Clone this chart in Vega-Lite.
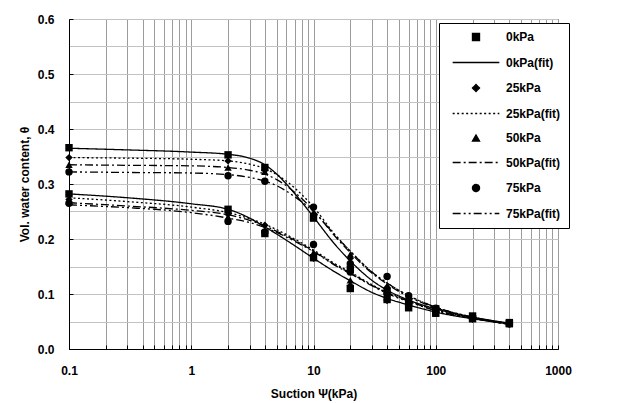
{
  "$schema": "https://vega.github.io/schema/vega-lite/v6.json",
  "width": 489,
  "height": 330,
  "autosize": {"type": "none"},
  "padding": {"left": 69, "top": 19, "right": 71, "bottom": 54},
  "background": "white",
  "datasets": {
    "pts": [
      {"s":0.1,"t":0.366,"label":"0kPa","branch":"u"},{"s":2,"t":0.353,"label":"0kPa","branch":"u"},{"s":4,"t":0.330,"label":"0kPa","branch":"u"},{"s":10,"t":0.238,"label":"0kPa","branch":"u"},{"s":20,"t":0.145,"label":"0kPa","branch":"u"},{"s":40,"t":0.105,"label":"0kPa","branch":"u"},{"s":60,"t":0.085,"label":"0kPa","branch":"u"},{"s":100,"t":0.073,"label":"0kPa","branch":"u"},{"s":200,"t":0.060,"label":"0kPa","branch":"u"},{"s":400,"t":0.048,"label":"0kPa","branch":"u"},
      {"s":0.1,"t":0.282,"label":"0kPa","branch":"l"},{"s":2,"t":0.254,"label":"0kPa","branch":"l"},{"s":4,"t":0.210,"label":"0kPa","branch":"l"},{"s":10,"t":0.166,"label":"0kPa","branch":"l"},{"s":20,"t":0.110,"label":"0kPa","branch":"l"},{"s":40,"t":0.090,"label":"0kPa","branch":"l"},{"s":60,"t":0.075,"label":"0kPa","branch":"l"},{"s":100,"t":0.065,"label":"0kPa","branch":"l"},{"s":200,"t":0.055,"label":"0kPa","branch":"l"},{"s":400,"t":0.046,"label":"0kPa","branch":"l"},
      {"s":0.1,"t":0.348,"label":"25kPa","branch":"u"},{"s":2,"t":0.342,"label":"25kPa","branch":"u"},{"s":4,"t":0.325,"label":"25kPa","branch":"u"},{"s":10,"t":0.245,"label":"25kPa","branch":"u"},{"s":20,"t":0.165,"label":"25kPa","branch":"u"},{"s":40,"t":0.112,"label":"25kPa","branch":"u"},{"s":60,"t":0.090,"label":"25kPa","branch":"u"},{"s":100,"t":0.072,"label":"25kPa","branch":"u"},{"s":200,"t":0.057,"label":"25kPa","branch":"u"},{"s":400,"t":0.047,"label":"25kPa","branch":"u"},
      {"s":0.1,"t":0.272,"label":"25kPa","branch":"l"},{"s":2,"t":0.245,"label":"25kPa","branch":"l"},{"s":4,"t":0.225,"label":"25kPa","branch":"l"},{"s":10,"t":0.165,"label":"25kPa","branch":"l"},{"s":20,"t":0.115,"label":"25kPa","branch":"l"},{"s":40,"t":0.088,"label":"25kPa","branch":"l"},{"s":60,"t":0.078,"label":"25kPa","branch":"l"},{"s":100,"t":0.066,"label":"25kPa","branch":"l"},{"s":200,"t":0.054,"label":"25kPa","branch":"l"},{"s":400,"t":0.045,"label":"25kPa","branch":"l"},
      {"s":0.1,"t":0.335,"label":"50kPa","branch":"u"},{"s":2,"t":0.330,"label":"50kPa","branch":"u"},{"s":4,"t":0.322,"label":"50kPa","branch":"u"},{"s":10,"t":0.245,"label":"50kPa","branch":"u"},{"s":20,"t":0.172,"label":"50kPa","branch":"u"},{"s":40,"t":0.115,"label":"50kPa","branch":"u"},{"s":60,"t":0.092,"label":"50kPa","branch":"u"},{"s":100,"t":0.072,"label":"50kPa","branch":"u"},{"s":200,"t":0.057,"label":"50kPa","branch":"u"},{"s":400,"t":0.047,"label":"50kPa","branch":"u"},
      {"s":0.1,"t":0.268,"label":"50kPa","branch":"l"},{"s":2,"t":0.240,"label":"50kPa","branch":"l"},{"s":4,"t":0.215,"label":"50kPa","branch":"l"},{"s":10,"t":0.175,"label":"50kPa","branch":"l"},{"s":20,"t":0.125,"label":"50kPa","branch":"l"},{"s":40,"t":0.095,"label":"50kPa","branch":"l"},{"s":60,"t":0.080,"label":"50kPa","branch":"l"},{"s":100,"t":0.067,"label":"50kPa","branch":"l"},{"s":200,"t":0.055,"label":"50kPa","branch":"l"},{"s":400,"t":0.046,"label":"50kPa","branch":"l"},
      {"s":0.1,"t":0.322,"label":"75kPa","branch":"u"},{"s":2,"t":0.315,"label":"75kPa","branch":"u"},{"s":4,"t":0.305,"label":"75kPa","branch":"u"},{"s":10,"t":0.258,"label":"75kPa","branch":"u"},{"s":20,"t":0.155,"label":"75kPa","branch":"u"},{"s":40,"t":0.132,"label":"75kPa","branch":"u"},{"s":60,"t":0.097,"label":"75kPa","branch":"u"},{"s":100,"t":0.074,"label":"75kPa","branch":"u"},{"s":200,"t":0.058,"label":"75kPa","branch":"u"},{"s":400,"t":0.047,"label":"75kPa","branch":"u"},
      {"s":0.1,"t":0.265,"label":"75kPa","branch":"l"},{"s":2,"t":0.232,"label":"75kPa","branch":"l"},{"s":4,"t":0.213,"label":"75kPa","branch":"l"},{"s":10,"t":0.190,"label":"75kPa","branch":"l"},{"s":20,"t":0.140,"label":"75kPa","branch":"l"},{"s":40,"t":0.100,"label":"75kPa","branch":"l"},{"s":60,"t":0.082,"label":"75kPa","branch":"l"},{"s":100,"t":0.068,"label":"75kPa","branch":"l"},{"s":200,"t":0.056,"label":"75kPa","branch":"l"},{"s":400,"t":0.046,"label":"75kPa","branch":"l"}
    ],
    "fits": [
      {"s":0.1,"t":0.365,"label":"0kPa(fit)","branch":"u"},{"s":0.3,"t":0.362,"label":"0kPa(fit)","branch":"u"},{"s":1,"t":0.358,"label":"0kPa(fit)","branch":"u"},{"s":2,"t":0.354,"label":"0kPa(fit)","branch":"u"},{"s":3,"t":0.347,"label":"0kPa(fit)","branch":"u"},{"s":4,"t":0.335,"label":"0kPa(fit)","branch":"u"},{"s":5,"t":0.318,"label":"0kPa(fit)","branch":"u"},{"s":7,"t":0.283,"label":"0kPa(fit)","branch":"u"},{"s":10,"t":0.240,"label":"0kPa(fit)","branch":"u"},{"s":15,"t":0.190,"label":"0kPa(fit)","branch":"u"},{"s":20,"t":0.160,"label":"0kPa(fit)","branch":"u"},{"s":30,"t":0.125,"label":"0kPa(fit)","branch":"u"},{"s":40,"t":0.107,"label":"0kPa(fit)","branch":"u"},{"s":60,"t":0.089,"label":"0kPa(fit)","branch":"u"},{"s":100,"t":0.073,"label":"0kPa(fit)","branch":"u"},{"s":200,"t":0.058,"label":"0kPa(fit)","branch":"u"},{"s":400,"t":0.047,"label":"0kPa(fit)","branch":"u"},
      {"s":0.1,"t":0.282,"label":"0kPa(fit)","branch":"l"},{"s":0.3,"t":0.275,"label":"0kPa(fit)","branch":"l"},{"s":1,"t":0.264,"label":"0kPa(fit)","branch":"l"},{"s":2,"t":0.254,"label":"0kPa(fit)","branch":"l"},{"s":3,"t":0.238,"label":"0kPa(fit)","branch":"l"},{"s":4,"t":0.222,"label":"0kPa(fit)","branch":"l"},{"s":5,"t":0.209,"label":"0kPa(fit)","branch":"l"},{"s":7,"t":0.188,"label":"0kPa(fit)","branch":"l"},{"s":10,"t":0.165,"label":"0kPa(fit)","branch":"l"},{"s":15,"t":0.140,"label":"0kPa(fit)","branch":"l"},{"s":20,"t":0.124,"label":"0kPa(fit)","branch":"l"},{"s":30,"t":0.103,"label":"0kPa(fit)","branch":"l"},{"s":40,"t":0.092,"label":"0kPa(fit)","branch":"l"},{"s":60,"t":0.080,"label":"0kPa(fit)","branch":"l"},{"s":100,"t":0.067,"label":"0kPa(fit)","branch":"l"},{"s":200,"t":0.055,"label":"0kPa(fit)","branch":"l"},{"s":400,"t":0.046,"label":"0kPa(fit)","branch":"l"},
      {"s":0.1,"t":0.348,"label":"25kPa(fit)","branch":"u"},{"s":0.3,"t":0.347,"label":"25kPa(fit)","branch":"u"},{"s":1,"t":0.345,"label":"25kPa(fit)","branch":"u"},{"s":2,"t":0.342,"label":"25kPa(fit)","branch":"u"},{"s":3,"t":0.336,"label":"25kPa(fit)","branch":"u"},{"s":4,"t":0.328,"label":"25kPa(fit)","branch":"u"},{"s":5,"t":0.317,"label":"25kPa(fit)","branch":"u"},{"s":7,"t":0.293,"label":"25kPa(fit)","branch":"u"},{"s":10,"t":0.258,"label":"25kPa(fit)","branch":"u"},{"s":15,"t":0.208,"label":"25kPa(fit)","branch":"u"},{"s":20,"t":0.178,"label":"25kPa(fit)","branch":"u"},{"s":30,"t":0.140,"label":"25kPa(fit)","branch":"u"},{"s":40,"t":0.120,"label":"25kPa(fit)","branch":"u"},{"s":60,"t":0.097,"label":"25kPa(fit)","branch":"u"},{"s":100,"t":0.076,"label":"25kPa(fit)","branch":"u"},{"s":200,"t":0.058,"label":"25kPa(fit)","branch":"u"},{"s":400,"t":0.046,"label":"25kPa(fit)","branch":"u"},
      {"s":0.1,"t":0.275,"label":"25kPa(fit)","branch":"l"},{"s":0.3,"t":0.268,"label":"25kPa(fit)","branch":"l"},{"s":1,"t":0.258,"label":"25kPa(fit)","branch":"l"},{"s":2,"t":0.248,"label":"25kPa(fit)","branch":"l"},{"s":3,"t":0.237,"label":"25kPa(fit)","branch":"l"},{"s":4,"t":0.227,"label":"25kPa(fit)","branch":"l"},{"s":5,"t":0.217,"label":"25kPa(fit)","branch":"l"},{"s":7,"t":0.200,"label":"25kPa(fit)","branch":"l"},{"s":10,"t":0.180,"label":"25kPa(fit)","branch":"l"},{"s":15,"t":0.155,"label":"25kPa(fit)","branch":"l"},{"s":20,"t":0.140,"label":"25kPa(fit)","branch":"l"},{"s":30,"t":0.117,"label":"25kPa(fit)","branch":"l"},{"s":40,"t":0.103,"label":"25kPa(fit)","branch":"l"},{"s":60,"t":0.088,"label":"25kPa(fit)","branch":"l"},{"s":100,"t":0.071,"label":"25kPa(fit)","branch":"l"},{"s":200,"t":0.056,"label":"25kPa(fit)","branch":"l"},{"s":400,"t":0.045,"label":"25kPa(fit)","branch":"l"},
      {"s":0.1,"t":0.335,"label":"50kPa(fit)","branch":"u"},{"s":0.3,"t":0.334,"label":"50kPa(fit)","branch":"u"},{"s":1,"t":0.333,"label":"50kPa(fit)","branch":"u"},{"s":2,"t":0.330,"label":"50kPa(fit)","branch":"u"},{"s":3,"t":0.325,"label":"50kPa(fit)","branch":"u"},{"s":4,"t":0.318,"label":"50kPa(fit)","branch":"u"},{"s":5,"t":0.308,"label":"50kPa(fit)","branch":"u"},{"s":7,"t":0.285,"label":"50kPa(fit)","branch":"u"},{"s":10,"t":0.252,"label":"50kPa(fit)","branch":"u"},{"s":15,"t":0.205,"label":"50kPa(fit)","branch":"u"},{"s":20,"t":0.175,"label":"50kPa(fit)","branch":"u"},{"s":30,"t":0.138,"label":"50kPa(fit)","branch":"u"},{"s":40,"t":0.118,"label":"50kPa(fit)","branch":"u"},{"s":60,"t":0.095,"label":"50kPa(fit)","branch":"u"},{"s":100,"t":0.075,"label":"50kPa(fit)","branch":"u"},{"s":200,"t":0.057,"label":"50kPa(fit)","branch":"u"},{"s":400,"t":0.046,"label":"50kPa(fit)","branch":"u"},
      {"s":0.1,"t":0.266,"label":"50kPa(fit)","branch":"l"},{"s":0.3,"t":0.260,"label":"50kPa(fit)","branch":"l"},{"s":1,"t":0.252,"label":"50kPa(fit)","branch":"l"},{"s":2,"t":0.244,"label":"50kPa(fit)","branch":"l"},{"s":3,"t":0.234,"label":"50kPa(fit)","branch":"l"},{"s":4,"t":0.224,"label":"50kPa(fit)","branch":"l"},{"s":5,"t":0.214,"label":"50kPa(fit)","branch":"l"},{"s":7,"t":0.198,"label":"50kPa(fit)","branch":"l"},{"s":10,"t":0.178,"label":"50kPa(fit)","branch":"l"},{"s":15,"t":0.153,"label":"50kPa(fit)","branch":"l"},{"s":20,"t":0.138,"label":"50kPa(fit)","branch":"l"},{"s":30,"t":0.116,"label":"50kPa(fit)","branch":"l"},{"s":40,"t":0.102,"label":"50kPa(fit)","branch":"l"},{"s":60,"t":0.087,"label":"50kPa(fit)","branch":"l"},{"s":100,"t":0.070,"label":"50kPa(fit)","branch":"l"},{"s":200,"t":0.056,"label":"50kPa(fit)","branch":"l"},{"s":400,"t":0.045,"label":"50kPa(fit)","branch":"l"},
      {"s":0.1,"t":0.322,"label":"75kPa(fit)","branch":"u"},{"s":0.3,"t":0.321,"label":"75kPa(fit)","branch":"u"},{"s":1,"t":0.320,"label":"75kPa(fit)","branch":"u"},{"s":2,"t":0.317,"label":"75kPa(fit)","branch":"u"},{"s":3,"t":0.312,"label":"75kPa(fit)","branch":"u"},{"s":4,"t":0.305,"label":"75kPa(fit)","branch":"u"},{"s":5,"t":0.297,"label":"75kPa(fit)","branch":"u"},{"s":7,"t":0.277,"label":"75kPa(fit)","branch":"u"},{"s":10,"t":0.250,"label":"75kPa(fit)","branch":"u"},{"s":15,"t":0.207,"label":"75kPa(fit)","branch":"u"},{"s":20,"t":0.178,"label":"75kPa(fit)","branch":"u"},{"s":30,"t":0.140,"label":"75kPa(fit)","branch":"u"},{"s":40,"t":0.120,"label":"75kPa(fit)","branch":"u"},{"s":60,"t":0.097,"label":"75kPa(fit)","branch":"u"},{"s":100,"t":0.076,"label":"75kPa(fit)","branch":"u"},{"s":200,"t":0.058,"label":"75kPa(fit)","branch":"u"},{"s":400,"t":0.046,"label":"75kPa(fit)","branch":"u"},
      {"s":0.1,"t":0.262,"label":"75kPa(fit)","branch":"l"},{"s":0.3,"t":0.257,"label":"75kPa(fit)","branch":"l"},{"s":1,"t":0.248,"label":"75kPa(fit)","branch":"l"},{"s":2,"t":0.238,"label":"75kPa(fit)","branch":"l"},{"s":3,"t":0.230,"label":"75kPa(fit)","branch":"l"},{"s":4,"t":0.221,"label":"75kPa(fit)","branch":"l"},{"s":5,"t":0.212,"label":"75kPa(fit)","branch":"l"},{"s":7,"t":0.196,"label":"75kPa(fit)","branch":"l"},{"s":10,"t":0.177,"label":"75kPa(fit)","branch":"l"},{"s":15,"t":0.152,"label":"75kPa(fit)","branch":"l"},{"s":20,"t":0.137,"label":"75kPa(fit)","branch":"l"},{"s":30,"t":0.115,"label":"75kPa(fit)","branch":"l"},{"s":40,"t":0.101,"label":"75kPa(fit)","branch":"l"},{"s":60,"t":0.086,"label":"75kPa(fit)","branch":"l"},{"s":100,"t":0.070,"label":"75kPa(fit)","branch":"l"},{"s":200,"t":0.056,"label":"75kPa(fit)","branch":"l"},{"s":400,"t":0.045,"label":"75kPa(fit)","branch":"l"}
    ]
  },
  "encoding": {
    "x": {
      "field": "s", "type": "quantitative",
      "scale": {"type": "log", "domain": [0.1, 1000], "nice": false},
      "axis": {
        "title": "Suction Ψ(kPa)",
        "values": [0.1,0.2,0.3,0.4,0.5,0.6,0.7,0.8,0.9,1,2,3,4,5,6,7,8,9,10,20,30,40,50,60,70,80,90,100,200,300,400,500,600,700,800,900,1000],
        "labelExpr": "indexof([0.1,1,10,100,1000], datum.value) >= 0 ? datum.label : ''",
        "format": "~g",
        "gridColor": "#9c9c9c",
        "labelPadding": 20,
        "titlePadding": 12
      }
    },
    "y": {
      "field": "t", "type": "quantitative",
      "scale": {"domain": [0, 0.6], "nice": false, "zero": true},
      "axis": {
        "title": "Vol. water content, θ",
        "values": [0,0.05,0.1,0.15,0.2,0.25,0.3,0.35,0.4,0.45,0.5,0.55,0.6],
        "labelExpr": "round(datum.value*100) % 10 == 0 ? format(datum.value, '.1f') : ''",
        "tickColor": {"condition": {"test": "round(datum.value*100) % 10 == 0", "value": "black"}, "value": "transparent"},
        "gridColor": "#c2c2c2",
        "labelPadding": 19,
        "titlePadding": 6
      }
    }
  },
  "layer": [
    {
      "data": {"name": "fits"},
      "mark": {"type": "line", "color": "black", "strokeWidth": 1.3, "interpolate": "monotone"},
      "encoding": {
        "detail": {"field": "branch"},
        "strokeDash": {
          "field": "label", "type": "nominal",
          "scale": {
            "domain": ["0kPa","0kPa(fit)","25kPa","25kPa(fit)","50kPa","50kPa(fit)","75kPa","75kPa(fit)"],
            "range": [[1,0],[1,0],[1,0],[2,2.5],[1,0],[8,3,2,3],[1,0],[8,3,2,3,2,3]]
          },
          "legend": {
            "title": null,
            "symbolFillColor": "black",
            "symbolStrokeColor": "black",
            "labelAlign": "left",
            "encode": {"symbols": {"update": {"fill": {"value": "black"}, "stroke": {"value": "black"}, "opacity": {"value": 1}}}}
          }
        }
      }
    },
    {
      "data": {"name": "pts"},
      "mark": {"type": "point", "filled": true, "color": "black", "size": 55, "opacity": 1},
      "encoding": {
        "shape": {
          "field": "label", "type": "nominal",
          "scale": {
            "domain": ["0kPa","0kPa(fit)","25kPa","25kPa(fit)","50kPa","50kPa(fit)","75kPa","75kPa(fit)"],
            "range": ["square","M-6.6,0H6.6","diamond","M-6.6,0H6.6","triangle-up","M-6.6,0H6.6","circle","M-6.6,0H6.6"]
          },
          "legend": {
            "title": null,
            "orient": "none",
            "legendX": 370,
            "legendY": 4,
            "padding": 8,
            "strokeColor": "black",
            "fillColor": "white",
            "symbolOffset": 23,
            "labelOffset": 24,
            "labelAlign": "left",
            "rowPadding": 12.5,
            "symbolSize": 50,
            "symbolStrokeWidth": 1.3,
            "symbolFillColor": "black",
            "symbolStrokeColor": "black",
            "labelFont": "Liberation Sans",
            "labelFontWeight": "bold",
            "labelFontSize": 12,
            "labelColor": "black",
            "labelLimit": 200,
            "encode": {"symbols": {"update": {"fill": {"value": "black"}, "stroke": {"value": "black"}, "opacity": {"value": 1}}}}
          }
        }
      }
    }
  ],
  "config": {
    "font": "Liberation Sans",
    "view": {"stroke": "black", "strokeWidth": 1},
    "axis": {
      "grid": true,
      "gridWidth": 1,
      "gridOpacity": 1,
      "domainColor": "black",
      "domainWidth": 1,
      "tickColor": "black",
      "tickSize": -4,
      "labelFont": "Liberation Sans",
      "labelFontWeight": "bold",
      "labelFontSize": 12,
      "labelColor": "black",
      "labelFlush": false,
      "labelOverlap": false,
      "titleFont": "Liberation Sans",
      "titleFontWeight": "bold",
      "titleFontSize": 12,
      "titleColor": "black"
    }
  }
}
